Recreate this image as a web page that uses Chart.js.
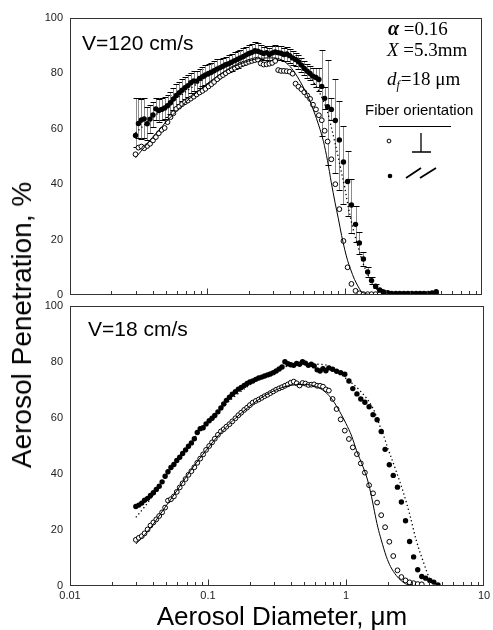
<!DOCTYPE html>
<html>
<head>
<meta charset="utf-8">
<script src="https://cdn.jsdelivr.net/npm/chart.js@4.4.0/dist/chart.umd.min.js"></script>
<style>
html,body{margin:0;padding:0;background:#fff;width:493px;height:630px;overflow:hidden;}
#wrap{position:relative;width:493px;height:630px;overflow:hidden;}
canvas{position:absolute;left:0;}
#c1{top:0;}
#c2{top:294px;}
.big{position:absolute;font-family:"Liberation Sans",Arial,sans-serif;color:#000;white-space:nowrap;}
#ytitle{font-size:28px;line-height:28px;left:22px;top:325px;transform:translate(-50%,-50%) rotate(-90deg);}
#xtitle{font-size:26px;line-height:26px;left:282px;top:603px;transform:translateX(-50%);}
</style>
</head>
<body>
<div id="wrap">
<canvas id="c1" width="493" height="310"></canvas>
<canvas id="c2" width="510" height="336"></canvas>
<div class="big" id="ytitle">Aerosol Penetration, %</div>
<div class="big" id="xtitle">Aerosol Diameter, μm</div>
</div>
<script>
// ---------------- DATA ----------------
// measured aerosol diameters (µm)
const diameters = [
  0.0300, 0.0315, 0.0331, 0.0347, 0.0365, 0.0383, 0.0402, 0.0422, 0.0443, 0.0465,
  0.0489, 0.0513, 0.0539, 0.0566, 0.0594, 0.0624, 0.0655, 0.0688, 0.0722, 0.0758,
  0.0796, 0.0836, 0.0878, 0.0922, 0.0968, 0.102, 0.107, 0.112, 0.118, 0.124,
  0.130, 0.136, 0.143, 0.150, 0.158, 0.166, 0.174, 0.183, 0.192, 0.201,
  0.211, 0.222, 0.233, 0.245, 0.257, 0.270, 0.283, 0.297, 0.312, 0.328,
  0.344, 0.361, 0.379, 0.398, 0.418, 0.439, 0.461, 0.484, 0.508, 0.534,
  0.560, 0.588, 0.618, 0.649, 0.681, 0.715, 0.751,
  0.80, 0.855, 0.915, 0.98, 1.05, 1.12, 1.20, 1.28, 1.37, 1.47,
  1.57, 1.68, 1.80, 1.92, 2.06, 2.20, 2.36, 2.52, 2.70, 2.89,
  3.09, 3.31, 3.54, 3.78, 4.05, 4.33, 4.64
];

// V = 120 cm/s, perpendicular fibers (open circles)
const topPerp = [
  50.8, 53.2, 53.6, 53.0, 53.8, 54.6, 55.8, 57.0, 58.4, 59.6,
  60.3, 62.4, 64.2, 65.6, 67.2, 68.0, 68.9, 69.6, 70.2, 70.9,
  71.6, 72.4, 73.1, 73.7, 74.4, 75.3, 76.1, 76.9, 77.9, 78.8,
  79.4, 80.1, 80.8, 81.5, 82.0, 82.6, 83.1, 83.5, 83.8, 84.2,
  84.5, 84.8, 85.0, 83.6, 83.2, 83.3, 83.5, 83.8, 84.5, 81.2,
  80.9, 80.9, 80.8, 80.6, 79.9, 76.3, 75.2, 74.3, 73.2, 72.0,
  70.8, 68.7, 67.0, 64.9, 63.1, 59.3, 55.4,
  49.0, 40.0, 31.0, 19.5, 10.0, 4.0, 1.5, 0.6, 0.3, 0.3,
  0.3, 0.3, 0.3, 0.3, 0.3, 0.3, 0.3, 0.3, 0.3, 0.3,
  0.3, 0.3, 0.3, 0.3, 0.3, 0.3, 0.5
];

// V = 120 cm/s, parallel fibers (filled circles)
const topPara = [
  57.6, 61.9, 63.2, 63.6, 61.8, 63.5, 65.0, 67.2, 66.6, 67.0,
  67.5, 68.3, 69.4, 70.8, 72.0, 73.0, 73.9, 74.8, 75.6, 76.6,
  77.3, 77.2, 78.2, 78.8, 79.4, 80.0, 80.4, 81.0, 81.6, 82.1,
  82.6, 83.1, 83.5, 84.0, 84.6, 85.1, 85.6, 86.1, 86.7, 87.2,
  87.6, 88.2, 88.0, 87.6, 87.2, 87.5, 86.8, 87.4, 87.7, 87.5,
  87.3, 86.8, 87.0, 86.4, 85.6, 85.0, 84.2, 83.0, 81.8, 80.8,
  80.0, 79.0, 78.5, 77.8, 75.3, 71.0, 68.0,
  67.0, 63.0, 56.0, 48.0, 41.0, 32.5, 25.5, 18.8, 13.0, 8.3,
  5.2, 3.2, 1.8, 1.1, 0.8, 0.6, 0.6, 0.6, 0.6, 0.6,
  0.6, 0.6, 0.6, 0.6, 0.6, 0.7, 1.2
];

// error bars of the parallel series at V = 120 cm/s: upper and lower extent
const topParaErrUp = [
  13.5, 9.3, 7.5, 7.5, 6, 5, 4.5, 4, 4, 4,
  4, 4, 4, 4, 4, 4, 4, 4, 4, 3.5,
  3.5, 3.5, 3.5, 3.5, 3.5, 3.5, 3.5, 3.5, 3.5, 3,
  3, 3, 3, 3, 3, 3, 3, 3, 3, 3,
  3, 3, 3, 2.5, 2.5, 2.5, 2.5, 2.5, 2.5, 2.5,
  2.5, 2.5, 2.5, 2.5, 2.5, 2.5, 2.5, 2.5, 2.5, 2.5,
  2.5, 3, 3.5, 4, 13, 4, 17,
  4, 15, 14, 13, 11, 9.5, 6.5, 4, 2.6, 1.8,
  1.2, 0.8, 0.5, 0, 0, 0, 0, 0, 0, 0,
  0, 0, 0, 0, 0, 0, 0
];
const topParaErrLow = [
  4, 5.4, 7, 7, 6, 5, 4.5, 4, 4, 4,
  4, 4, 4, 4, 4, 4, 4, 4, 4, 3.5,
  3.5, 3.5, 3.5, 3.5, 3.5, 3.5, 3.5, 3.5, 3.5, 3,
  3, 3, 3, 3, 3, 3, 3, 3, 3, 3,
  3, 3, 3, 2.5, 2.5, 2.5, 2.5, 2.5, 2.5, 2.5,
  2.5, 2.5, 2.5, 2.5, 2.5, 2.5, 2.5, 2.5, 2.5, 2.5,
  2.5, 3, 3.5, 4, 18, 4, 21,
  4, 19, 18, 15, 12.5, 10, 6.5, 4, 2.6, 1.8,
  1.2, 0.8, 0.5, 0, 0, 0, 0, 0, 0, 0,
  0, 0, 0, 0, 0, 0, 0
];

// V = 18 cm/s, perpendicular fibers (open circles)
const bottomPerp = [
  16.5, 17.2, 17.8, 18.8, 20.2, 21.6, 22.7, 23.8, 25.0, 26.3,
  28.0, 30.5, 31.0, 32.0, 33.6, 35.2, 36.7, 38.2, 39.7, 41.0,
  42.4, 44.0, 45.5, 47.0, 48.6, 50.0, 51.3, 52.6, 54.0, 55.2,
  56.0, 56.9, 57.8, 58.8, 59.9, 61.0, 61.9, 62.9, 63.7, 64.6,
  65.5, 66.1, 66.6, 67.2, 67.8, 68.3, 68.9, 69.5, 70.1, 70.6,
  71.0, 71.5, 72.0, 72.6, 73.0, 72.4, 71.6, 72.5, 72.3, 71.8,
  71.9, 72.0, 71.5, 71.5, 71.2, 70.2, 69.8,
  66.8, 63.2, 59.5, 55.5, 52.5, 49.5, 47.1, 43.8, 40.5, 36.0,
  33.1, 29.8, 25.3, 21.0, 15.8, 10.7, 5.6, 3.2, 2.0, 1.3,
  1.0, 0.7, 0.6, null, null, null, null
];

// V = 18 cm/s, parallel fibers (filled circles)
const bottomPara = [
  28.4, 28.9, 29.6, 30.6, 31.3, 32.3, 33.3, 34.5, 35.6, 37.2,
  39.2, 40.8, 42.3, 43.4, 44.8, 46.0, 47.3, 48.6, 49.9, 51.1,
  52.6, 54.8, 56.2, 56.5, 57.9, 59.0, 59.9, 60.9, 62.2, 63.6,
  65.0, 66.3, 67.4, 68.5, 69.4, 70.3, 70.9, 71.6, 72.3, 72.9,
  73.2, 73.8, 74.3, 74.6, 75.0, 75.4, 75.7, 76.2, 76.8, 77.5,
  78.2, 80.1, 79.4, 79.0, 78.8, 79.5, 79.2, 80.1, 79.6, 78.8,
  79.2, 78.6, 77.2, 76.8, 77.6, 76.9, 77.9,
  77.4, 76.7, 76.2, 75.6, 73.2, 70.5, 68.6, 66.8, 65.6, 64.0,
  61.2, 59.4, 55.2, 48.8, 43.3, 39.5, 35.3, 30.0, 23.3, 15.9,
  10.4, 5.8, 3.4, 2.8, 2.0, 1.4, 0.4
];

// model curves
const topPerpModelD = [0.030, 0.035, 0.04, 0.045, 0.05, 0.06, 0.07, 0.08, 0.1, 0.12, 0.15, 0.2, 0.25, 0.3, 0.35, 0.4, 0.45, 0.5, 0.55, 0.6, 0.65, 0.7, 0.75, 0.8, 0.85, 0.9, 0.95, 1.0, 1.05, 1.1, 1.18, 1.25, 1.31, 1.4, 1.5, 1.6];
const topPerpModel  = [49.5, 53.5, 57.0, 59.8, 62.5, 66.5, 69.8, 72.3, 76.3, 79.2, 82.0, 84.5, 85.5, 85.6, 84.8, 82.5, 79.0, 75.0, 70.8, 66.0, 61.0, 55.5, 48.5, 40.5, 33.5, 27.5, 21.5, 16.5, 12.5, 9.5, 5.6, 3.2, 1.5, 0.6, 0.2, 0.0];
const topParaModelD = [0.030, 0.035, 0.04, 0.05, 0.06, 0.08, 0.1, 0.15, 0.2, 0.25, 0.3, 0.35, 0.4, 0.45, 0.5, 0.55, 0.6, 0.65, 0.7, 0.75, 0.8, 0.85, 0.9, 0.95, 1.0, 1.06, 1.15, 1.25, 1.35, 1.47, 1.6, 1.72, 1.85, 2.0, 2.2];
const topParaModel  = [58.5, 61.5, 64.0, 68.0, 71.0, 75.5, 78.8, 84.0, 86.5, 87.5, 87.5, 87.0, 85.8, 84.0, 82.0, 79.5, 76.5, 73.5, 70.0, 66.0, 60.5, 55.0, 49.5, 44.0, 39.0, 32.0, 24.0, 17.5, 12.0, 7.5, 4.0, 2.0, 1.0, 0.4, 0.0];
const bottomPerpModelD = [0.030, 0.035, 0.04, 0.05, 0.06, 0.07, 0.08, 0.1, 0.12, 0.15, 0.2, 0.25, 0.3, 0.35, 0.4, 0.5, 0.6, 0.7, 0.8, 0.9, 1.0, 1.1, 1.19, 1.33, 1.44, 1.53, 1.61, 1.7, 1.8, 1.96, 2.1, 2.31, 2.5, 2.7, 3.0];
const bottomPerpModel  = [15.0, 18.5, 22.0, 28.8, 34.3, 39.2, 43.2, 49.3, 54.0, 58.9, 64.2, 67.6, 69.7, 71.0, 71.7, 72.0, 71.3, 69.5, 66.4, 62.3, 58.0, 53.5, 48.5, 42.5, 37.5, 32.0, 26.5, 21.0, 16.5, 10.5, 7.0, 3.8, 2.0, 0.8, 0.2];
const bottomParaModelD = [0.030, 0.035, 0.04, 0.05, 0.06, 0.07, 0.08, 0.1, 0.12, 0.15, 0.2, 0.25, 0.3, 0.4, 0.5, 0.6, 0.72, 0.85, 1.0, 1.25, 1.57, 1.75, 1.85, 2.0, 2.31, 2.6, 2.88, 3.23, 3.6, 4.1, 4.5, 5.0];
const bottomParaModel  = [24.5, 28.5, 32.5, 39.5, 45.0, 49.5, 53.0, 58.5, 62.5, 67.0, 71.8, 74.8, 76.8, 78.8, 79.2, 79.2, 78.9, 77.0, 74.1, 70.0, 63.4, 57.5, 54.5, 49.5, 41.0, 33.5, 26.0, 16.3, 9.2, 2.0, 0.6, 0.0];

// axis ticks
const yTicks = [0, 20, 40, 60, 80, 100];
const xTickValues = [0.01, 0.1, 1, 10];
const xTickLabels = ['0.01', '0.1', '1', '10'];

// ---------------- RENDERING ----------------
const SANS = '"Liberation Sans", Arial, sans-serif';
const SERIF = '"Liberation Serif", "Times New Roman", serif';

function pts(xs, ys) {
  const out = [];
  for (let i = 0; i < xs.length; i++) if (ys[i] !== null && ys[i] !== undefined) out.push({x: xs[i], y: ys[i], i: i});
  return out;
}

const framePlugin = {
  id: 'frame',
  afterDatasetsDraw(chart) {
    const {ctx, chartArea: a, scales} = chart;
    const L = Math.round(a.left), R = Math.round(a.right), T = Math.round(a.top), B = Math.round(a.bottom);
    ctx.save();
    ctx.strokeStyle = '#333';
    ctx.lineWidth = 1;
    ctx.strokeRect(L + 0.5, T + 0.5, R - L - 1, B - T - 1);
    const xs = scales.x;
    ctx.beginPath();
    for (let e = -2; e <= 0; e++) {
      for (let k = 1; k <= 9; k++) {
        const v = k * Math.pow(10, e);
        const px = Math.round(xs.getPixelForValue(v)) + 0.5;
        const len = k === 1 ? 6 : 3.5;
        ctx.moveTo(px, B - 0.5);
        ctx.lineTo(px, B - 0.5 - len);
      }
    }
    ctx.stroke();
    ctx.restore();
  }
};

const errorPlugin = {
  id: 'errbars',
  beforeDatasetsDraw(chart) {
    const {ctx, scales} = chart;
    chart.data.datasets.forEach((ds) => {
      if (!ds.errUp) return;
      ctx.save();
      ctx.lineWidth = 1;
      ds.data.forEach((p) => {
        const eu = ds.errUp[p.i], el = ds.errLow[p.i];
        if (!eu && !el) return;
        const x = Math.round(scales.x.getPixelForValue(p.x)) + 0.5;
        const yt = Math.round(scales.y.getPixelForValue(p.y + eu)) + 0.5;
        const yb = Math.round(scales.y.getPixelForValue(Math.max(p.y - el, 0))) + 0.5;
        ctx.strokeStyle = '#8a8a8a';
        ctx.beginPath(); ctx.moveTo(x, yt); ctx.lineTo(x, yb); ctx.stroke();
        ctx.strokeStyle = '#000';
        ctx.beginPath();
        ctx.moveTo(x - 3, yt); ctx.lineTo(x + 3, yt);
        ctx.moveTo(x - 3, yb); ctx.lineTo(x + 3, yb);
        ctx.stroke();
      });
      ctx.restore();
    });
  }
};

const topNotes = {
  id: 'topNotes',
  afterDraw(chart) {
    const ctx = chart.ctx;
    ctx.save();
    ctx.fillStyle = '#000';
    ctx.strokeStyle = '#000';
    ctx.textBaseline = 'alphabetic';
    ctx.textAlign = 'left';
    ctx.font = '21px ' + SANS;
    ctx.fillText('V=120 cm/s', 82, 50);
    ctx.font = 'bold italic 20px ' + SERIF;
    ctx.fillText('α', 388, 35);
    let w = ctx.measureText('α').width;
    ctx.font = '19px ' + SERIF;
    ctx.fillText(' =0.16', 388 + w, 35);
    ctx.font = 'italic 19px ' + SERIF;
    ctx.fillText('X', 387, 56);
    w = ctx.measureText('X').width;
    ctx.font = '19px ' + SERIF;
    ctx.fillText(' =5.3mm', 387 + w, 56);
    ctx.font = 'italic 19px ' + SERIF;
    ctx.fillText('d', 387, 85);
    w = ctx.measureText('d').width;
    ctx.font = 'italic 12px ' + SERIF;
    ctx.fillText('f', 387 + w, 89);
    const w2 = ctx.measureText('f').width;
    ctx.font = '19px ' + SERIF;
    ctx.fillText('=18 μm', 387 + w + w2 + 1, 85);
    ctx.font = '15px ' + SANS;
    ctx.fillText('Fiber orientation', 365, 115);
    ctx.lineWidth = 1;
    ctx.beginPath(); ctx.moveTo(379, 126.5); ctx.lineTo(451, 126.5); ctx.stroke();
    ctx.fillStyle = '#fff';
    ctx.beginPath(); ctx.arc(389, 141, 1.9, 0, Math.PI * 2); ctx.fill(); ctx.stroke();
    ctx.lineWidth = 1.3;
    ctx.beginPath();
    ctx.moveTo(421, 133); ctx.lineTo(421, 152);
    ctx.moveTo(412, 152); ctx.lineTo(431, 152);
    ctx.stroke();
    ctx.fillStyle = '#000';
    ctx.beginPath(); ctx.arc(390, 176, 2.3, 0, Math.PI * 2); ctx.fill();
    ctx.lineWidth = 1.8;
    ctx.beginPath();
    ctx.moveTo(406, 178); ctx.lineTo(421, 168);
    ctx.moveTo(420, 178); ctx.lineTo(436, 168);
    ctx.stroke();
    ctx.restore();
  }
};

const bottomNotes = {
  id: 'bottomNotes',
  afterDraw(chart) {
    const ctx = chart.ctx;
    ctx.save();
    ctx.fillStyle = '#000';
    ctx.textBaseline = 'alphabetic';
    ctx.textAlign = 'left';
    ctx.font = '21px ' + SANS;
    ctx.fillText('V=18 cm/s', 88, 42);
    ctx.restore();
  }
};

function datasets(perpD, perpV, paraD, paraV, perp, para, errUp, errLow) {
  return [
    {label: 'Perpendicular (model)', data: pts(perpD, perpV), showLine: true, pointRadius: 0,
     borderColor: '#000', borderWidth: 1, cubicInterpolationMode: 'monotone', order: 1},
    {label: 'Parallel (model)', data: pts(paraD, paraV), showLine: true, pointRadius: 0,
     borderColor: '#000', borderWidth: 1.3, borderDash: [1.3, 2.7], cubicInterpolationMode: 'monotone', order: 1},
    {label: 'Parallel', data: pts(diameters, para), errUp: errUp, errLow: errLow, pointRadius: 2.7,
     pointBackgroundColor: '#000', pointBorderColor: '#000', pointBorderWidth: 0, showLine: false, order: 2},
    {label: 'Perpendicular', data: pts(diameters, perp), pointRadius: 2.4,
     pointBackgroundColor: '#fff', pointBorderColor: '#000', pointBorderWidth: 1, showLine: false, order: 3}
  ];
}

function yScale() {
  return {
    min: 0, max: 100,
    afterBuildTicks: (s) => { s.ticks = yTicks.map(v => ({value: v})); },
    ticks: {padding: 7, color: '#222', font: {family: SANS, size: 11, lineHeight: 0.8}},
    grid: {display: false, drawTicks: false},
    border: {display: false},
    afterFit: (s) => { s.width = 70; }
  };
}

// top panel: canvas 0..310, chart area 18..295
new Chart(document.getElementById('c1'), {
  type: 'scatter',
  data: {datasets: datasets(topPerpModelD, topPerpModel, topParaModelD, topParaModel, topPerp, topPara, topParaErrUp, topParaErrLow)},
  options: {
    responsive: false, animation: false, devicePixelRatio: 1,
    layout: {padding: {left: 0, right: 11, top: 18, bottom: 0}},
    plugins: {legend: {display: false}, tooltip: {enabled: false}},
    scales: {
      x: {type: 'logarithmic', min: 0.01, max: 10,
          grid: {display: false, drawTicks: false}, border: {display: false},
          ticks: {display: false},
          afterFit: (s) => { s.height = 15; }},
      y: yScale()
    }
  },
  plugins: [framePlugin, errorPlugin, topNotes]
});

// bottom panel: canvas at page y 294, chart area page 306..586
new Chart(document.getElementById('c2'), {
  type: 'scatter',
  data: {datasets: datasets(bottomPerpModelD, bottomPerpModel, bottomParaModelD, bottomParaModel, bottomPerp, bottomPara, null, null)},
  options: {
    responsive: false, animation: false, devicePixelRatio: 1,
    layout: {padding: {left: 0, right: 26, top: 12, bottom: 0}},
    plugins: {legend: {display: false}, tooltip: {enabled: false}},
    scales: {
      x: {type: 'logarithmic', min: 0.01, max: 10,
          grid: {display: false, drawTicks: false}, border: {display: false},
          afterBuildTicks: (s) => { s.ticks = xTickValues.map(v => ({value: v})); },
          ticks: {autoSkip: false, maxRotation: 0, padding: 6, color: '#222',
                  font: {family: SANS, size: 11, lineHeight: 0.8},
                  callback: (v, i) => xTickLabels[i]},
          afterFit: (s) => { s.height = 44; }},
      y: yScale()
    }
  },
  plugins: [framePlugin, bottomNotes]
});
</script>
</body>
</html>
